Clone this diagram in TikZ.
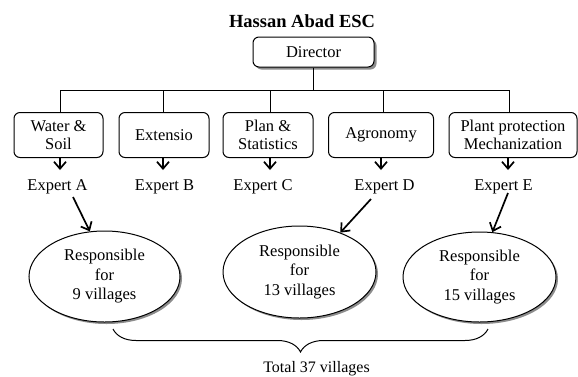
\documentclass[tikz,border=0pt]{standalone}
\usepackage{fontspec}
\setmainfont{Liberation Serif}
\usetikzlibrary{shapes.geometric,arrows.meta,shadows,decorations.pathreplacing}
\begin{document}
\begin{tikzpicture}[x=1pt,y=-1pt,
  txt/.style={font=\fontsize{16.5}{18.5}\selectfont, align=center},
  unit/.style={txt, draw, rounded corners=6pt, line width=1pt, minimum height=45pt, inner sep=1pt},
  boss/.style={unit, minimum height=30pt, drop shadow={shadow xshift=2.5pt, shadow yshift=-2.5pt, fill=black!45, opacity=1}, fill=white},
  zone/.style={txt, ellipse, draw, line width=1pt, inner sep=0pt, fill=white, font=\fontsize{16.5}{19.5}\selectfont,
    drop shadow={shadow xshift=2pt, shadow yshift=-2pt, fill=black!45, opacity=1}},
  link/.style={line width=1pt},
  arr/.style={line width=1.7pt, -{Straight Barb[length=7pt,width=12pt,line width=1.7pt]}}
]
\useasboundingbox (0,0) rectangle (578,376);

\node[font=\fontsize{18.5}{20}\selectfont\bfseries] (title) at (302,21) {Hassan Abad ESC};
\node[boss, minimum width=121pt] (dir) at (313.5,52) {Director};

\node[unit, minimum width=89pt]  (b1) at (58.5,135) {Water \&\\Soil};
\node[unit, minimum width=90pt]  (b2) at (164,135) {Extensio};
\node[unit, minimum width=90pt]  (b3) at (268,135) {Plan \&\\Statistics};
\node[unit, minimum width=105pt] (b4) at (381,135) {Agronomy};
\node[unit, minimum width=128pt] (b5) at (513,135) {Plant protection\\Mechanization};

\coordinate (bus) at (0,90);
\coordinate (busL) at (60,90);
\coordinate (busR) at (509,90);
\draw[link] (dir.south) -- (dir.south|-bus);
\draw[link] (busL) -- (busR);
\draw[link] ([xshift=1.5pt]b1.north) -- ([xshift=1.5pt]b1.north|-bus);
\draw[link] ([xshift=-1pt]b2.north) -- ([xshift=-1pt]b2.north|-bus);
\draw[link] ([xshift=2pt]b3.north) -- ([xshift=2pt]b3.north|-bus);
\draw[link] ([xshift=2pt]b4.north) -- ([xshift=2pt]b4.north|-bus);
\draw[link] ([xshift=-4pt]b5.north) -- ([xshift=-4pt]b5.north|-bus);

\draw[arr] ([xshift=1.5pt]b1.south) -- ++(0,12);
\draw[arr] ([xshift=-1pt]b2.south) -- ++(0,12);
\draw[arr] ([xshift=2pt]b3.south) -- ++(0,12);
\draw[arr] (b4.south) -- ++(0,12);
\draw[arr] ([xshift=-5pt]b5.south) -- ++(0,12);

\node[txt] (eA) at (57.5,187) {Expert A};
\node[txt] (eB) at (164.5,187) {Expert B};
\node[txt] (eC) at (263,187) {Expert C};
\node[txt] (eD) at (384.5,187) {Expert D};
\node[txt] (eE) at (503.5,187) {Expert E};

\node[zone, minimum width=151pt, minimum height=91pt] (z1) at (104.5,276.5) {Responsible\\for\\9 villages};
\node[zone, minimum width=153pt, minimum height=92pt] (z2) at (299.5,272) {Responsible\\for\\13 villages};
\node[zone, minimum width=153pt, minimum height=90pt] (z3) at (479.5,277) {Responsible\\for\\15 villages};

\coordinate (sA) at (73,197);
\coordinate (sD) at (371,199);
\coordinate (sE) at (508,193);
\draw[arr] (sA) -- (z1.108);
\draw[arr] (sD) -- (z2.44);
\draw[arr] (sE) -- (z3.74);

\coordinate (brL) at (113,329);
\coordinate (brR) at (488,329);
\draw[line width=1pt, decorate, decoration={brace, mirror, amplitude=23pt}] (brL) -- (brR);
\node[txt, font=\fontsize{16}{18}\selectfont] (tot) at (316.5,369) {Total 37 villages};
\end{tikzpicture}
\end{document}
